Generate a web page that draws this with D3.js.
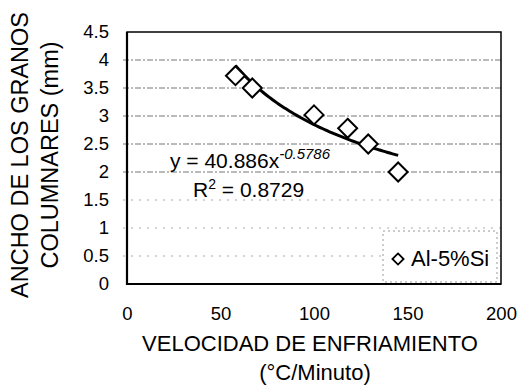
<!DOCTYPE html>
<html>
<head>
<meta charset="utf-8">
<script src="https://cdn.jsdelivr.net/npm/d3@7"></script>
<style>
  body { margin: 0; background: #fff; }
  svg { font-family: "Liberation Sans", Arial, sans-serif; }
</style>
</head>
<body>
<div id="chart"></div>
<script>
// data
var velocidad = [58, 67, 100, 118, 129, 145];
var ancho = [3.72, 3.5, 3.02, 2.78, 2.5, 2.0];
var xTicks = [0, 50, 100, 150, 200];
var yTicks = [0, 0.5, 1, 1.5, 2, 2.5, 3, 3.5, 4, 4.5];
// power trendline printed on the chart
var trendA = 40.886, trendB = -0.5786;
var rSquared = "0.8729";
var seriesName = "Al-5%Si";

var W = 519, H = 391;
var margin = {left: 127, right: 18, top: 32, bottom: 107};
var width = W - margin.left - margin.right;
var height = H - margin.top - margin.bottom;

var svg = d3.select("#chart").append("svg")
    .attr("width", W).attr("height", H);

var g = svg.append("g")
    .attr("transform", "translate(" + margin.left + "," + margin.top + ")");

var x = d3.scaleLinear().domain([0, 200]).range([0, width]);
var y = d3.scaleLinear().domain([0, 4.5]).range([height, 0]);

// gridlines
g.selectAll(".grid").data(yTicks.filter(function(d){ return d > 0 && d < 4.5; }))
  .enter().append("line")
    .attr("class", "grid")
    .attr("x1", -4).attr("x2", width)
    .attr("y1", function(d){ return y(d); })
    .attr("y2", function(d){ return y(d); })
    .attr("stroke", function(d){ return d >= 2 ? "#777" : "#aaa"; })
    .attr("stroke-width", 1)
    .attr("stroke-dasharray", function(d){ return d >= 2 ? "6,2,2,2" : "2,6"; });

// legend box (drawn under the frame)
var leg = g.append("g").attr("transform", "translate(" + (width - 118) + "," + (height - 53) + ")");
leg.append("rect")
    .attr("x", 0).attr("y", 0).attr("width", 114).attr("height", 51)
    .attr("fill", "#fff").attr("stroke", "#999").attr("stroke-width", 1)
    .attr("stroke-dasharray", "2,3");
leg.append("path")
    .attr("d", d3.symbol().type(d3.symbolDiamond2).size(80))
    .attr("transform", "translate(15,28)")
    .attr("fill", "#fff").attr("stroke", "#000").attr("stroke-width", 1.8);
leg.append("text")
    .attr("x", 28).attr("y", 35)
    .attr("font-size", "22px").attr("fill", "#000")
    .text(seriesName);

// frame
g.append("rect")
    .attr("x", 0).attr("y", 0).attr("width", width).attr("height", height)
    .attr("fill", "none").attr("stroke", "#000").attr("stroke-width", 1.5);
g.append("path")
    .attr("d", "M0,0V" + height + "H" + width)
    .attr("fill", "none").attr("stroke", "#000").attr("stroke-width", 2.2);

// axes
var yAxis = g.append("g").call(d3.axisLeft(y).tickValues(yTicks).tickSize(0).tickPadding(18)
    .tickFormat(function(d){ return String(d); }));
var xAxis = g.append("g").attr("transform", "translate(0," + height + ")")
    .call(d3.axisBottom(x).tickValues(xTicks).tickSize(0).tickPadding(23));
[yAxis, xAxis].forEach(function(a){
  a.select(".domain").remove();
  a.selectAll("text").attr("font-size", "18.5px").attr("fill", "#000")
    .attr("font-family", "Liberation Sans, Arial, sans-serif");
});

// trendline
var trendData = d3.range(velocidad[0], d3.max(velocidad) + 0.5, 1).map(function(v){
  return [v, trendA * Math.pow(v, trendB)];
});
g.append("path")
    .datum(trendData)
    .attr("d", d3.line().x(function(d){ return x(d[0]); }).y(function(d){ return y(d[1]); }))
    .attr("fill", "none").attr("stroke", "#000").attr("stroke-width", 3);

// points
g.selectAll(".pt").data(velocidad).enter().append("path")
    .attr("class", "pt")
    .attr("d", d3.symbol().type(d3.symbolDiamond2).size(230))
    .attr("transform", function(d, i){ return "translate(" + x(d) + "," + y(ancho[i]) + ")"; })
    .attr("fill", "#fff").attr("stroke", "#000").attr("stroke-width", 2);

// equation
var eq = svg.append("text")
    .attr("x", 170).attr("y", 168)
    .attr("font-size", "21px").attr("fill", "#000");
eq.append("tspan").text("y = " + trendA + "x");
eq.append("tspan").attr("dy", -9).attr("font-size", "15px").attr("font-style", "italic")
    .text(String(trendB));
var r2 = svg.append("text")
    .attr("x", 193).attr("y", 197)
    .attr("font-size", "21px").attr("fill", "#000");
r2.append("tspan").text("R");
r2.append("tspan").attr("dy", -8).attr("font-size", "14px").text("2");
r2.append("tspan").attr("dy", 8).text(" = " + rSquared);

// axis titles
svg.append("text")
    .attr("x", 310).attr("y", 351)
    .attr("text-anchor", "middle").attr("font-size", "22px").attr("fill", "#000")
    .text("VELOCIDAD DE ENFRIAMIENTO");
svg.append("text")
    .attr("x", 315).attr("y", 380)
    .attr("text-anchor", "middle").attr("font-size", "22px").attr("fill", "#000")
    .text("(°C/Minuto)");
svg.append("text")
    .attr("transform", "translate(28,155) rotate(-90)")
    .attr("text-anchor", "middle").attr("font-size", "23.5px").attr("fill", "#000")
    .text("ANCHO DE LOS GRANOS");
svg.append("text")
    .attr("transform", "translate(58,155) rotate(-90)")
    .attr("text-anchor", "middle").attr("font-size", "23.5px").attr("fill", "#000")
    .text("COLUMNARES (mm)");
</script>
</body>
</html>
